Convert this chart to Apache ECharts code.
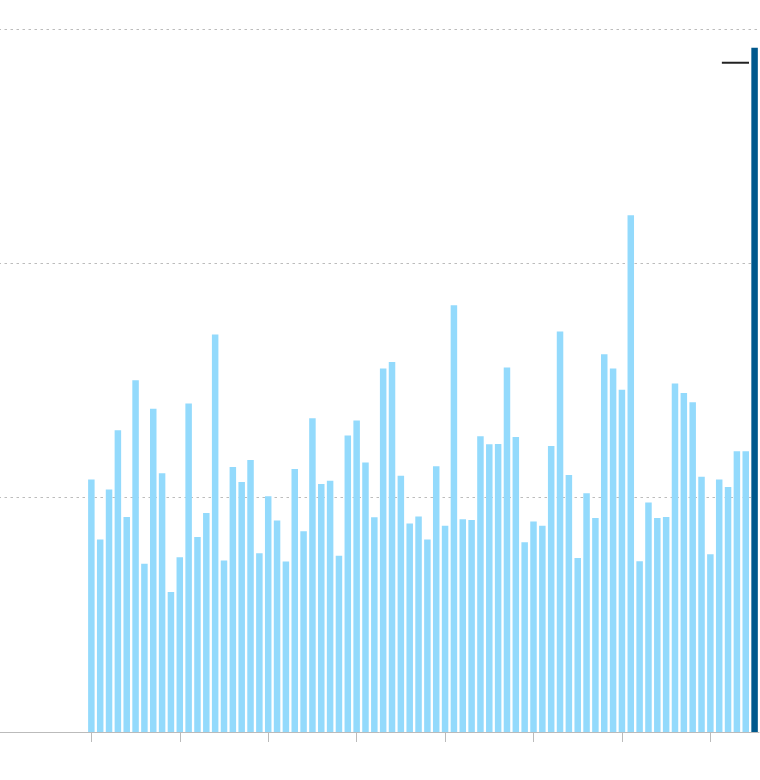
<!DOCTYPE html>
<html>
<head>
<meta charset="utf-8">
<script src="https://cdn.jsdelivr.net/npm/echarts@6/dist/echarts.min.js"></script>
<style>
  html, body { margin: 0; padding: 0; background: #ffffff; }
  #chart { width: 760px; height: 780px; }
</style>
</head>
<body>
<div id="chart"></div>
<script>
// ---- data ----
const leadingEmptyYears = [1940, 1941, 1942, 1943, 1944, 1945, 1946, 1947, 1948, 1949];
const years = [
  1950, 1951, 1952, 1953, 1954, 1955, 1956, 1957, 1958, 1959,
  1960, 1961, 1962, 1963, 1964, 1965, 1966, 1967, 1968, 1969,
  1970, 1971, 1972, 1973, 1974, 1975, 1976, 1977, 1978, 1979,
  1980, 1981, 1982, 1983, 1984, 1985, 1986, 1987, 1988, 1989,
  1990, 1991, 1992, 1993, 1994, 1995, 1996, 1997, 1998, 1999,
  2000, 2001, 2002, 2003, 2004, 2005, 2006, 2007, 2008, 2009,
  2010, 2011, 2012, 2013, 2014, 2015, 2016, 2017, 2018, 2019,
  2020, 2021, 2022, 2023, 2024
];
const highlightYear = 2025;
const values = [
  107.8, 82.2, 103.5, 128.8, 91.7, 150.1, 71.8, 137.9, 110.4, 59.7,
  74.6, 140.2, 83.2, 93.5, 169.6, 73.2, 113.1, 106.7, 116.1, 76.3,
  100.6, 90.3, 72.8, 112.2, 85.7, 133.9, 105.8, 107.2, 75.2, 126.5,
  132.9, 115.0, 91.6, 155.1, 157.9, 109.3, 89.0, 92.0, 82.2, 113.4,
  88.0, 182.1, 90.8, 90.5, 126.2, 122.8, 122.9, 155.5, 125.9, 81.0,
  89.8, 88.0, 122.0, 170.9, 109.7, 74.2, 101.9, 91.3, 161.2, 155.1,
  146.1, 220.5, 72.9, 97.9, 91.3, 91.7, 148.7, 144.7, 140.7, 108.9,
  75.9, 107.8, 104.5, 119.8, 119.8
];
const highlightValue = 292.0;
const yTicks = [0, 100, 200, 300];
// annotation stroke near the highlighted bar: [bar-index position, value]
const annotationLine = [[71.3, 285.6], [74.37, 285.6]];

// ---- build ----
const categories = leadingEmptyYears.concat(years, [highlightYear]).map(String);
const barData = leadingEmptyYears.map(() => '-')
  .concat(values)
  .concat([{ value: highlightValue, itemStyle: { color: '#00588c' } }]);
const padCount = leadingEmptyYears.length;

const chart = echarts.init(document.getElementById('chart'), null, { renderer: 'canvas' });
chart.setOption({
  animation: false,
  backgroundColor: '#ffffff',
  grid: { left: -1.5, right: 1, top: 29, bottom: 48, containLabel: false, outerBoundsMode: 'none' },
  xAxis: [
    {
      type: 'category',
      data: categories,
      boundaryGap: true,
      axisLine: { show: true, lineStyle: { color: '#bbbbbb', width: 1 } },
      axisTick: {
        show: true,
        alignWithLabel: true,
        length: 10,
        interval: function (index) { return index >= padCount && (index - padCount) % 10 === 0; },
        lineStyle: { color: '#bbbbbb', width: 1 }
      },
      axisLabel: { show: false },
      splitLine: { show: false }
    },
    {
      type: 'value',
      min: -padCount - 0.5,
      max: values.length + 0.5,
      show: false,
      splitLine: { show: false }
    }
  ],
  yAxis: {
    type: 'value',
    min: yTicks[0],
    max: yTicks[yTicks.length - 1],
    interval: yTicks[1] - yTicks[0],
    axisLine: { show: false },
    axisTick: { show: false },
    axisLabel: { show: false },
    splitLine: { show: true, lineStyle: { color: '#bcbcbc', width: 1, type: [2.5, 3.5] } }
  },
  series: [
    {
      type: 'bar',
      xAxisIndex: 0,
      data: barData,
      barWidth: 6.5,
      itemStyle: { color: '#93dafc' },
      z: 2
    },
    {
      type: 'line',
      xAxisIndex: 1,
      data: annotationLine,
      symbol: 'none',
      lineStyle: { color: '#222222', width: 2 },
      z: 3
    }
  ]
});
</script>
</body>
</html>
